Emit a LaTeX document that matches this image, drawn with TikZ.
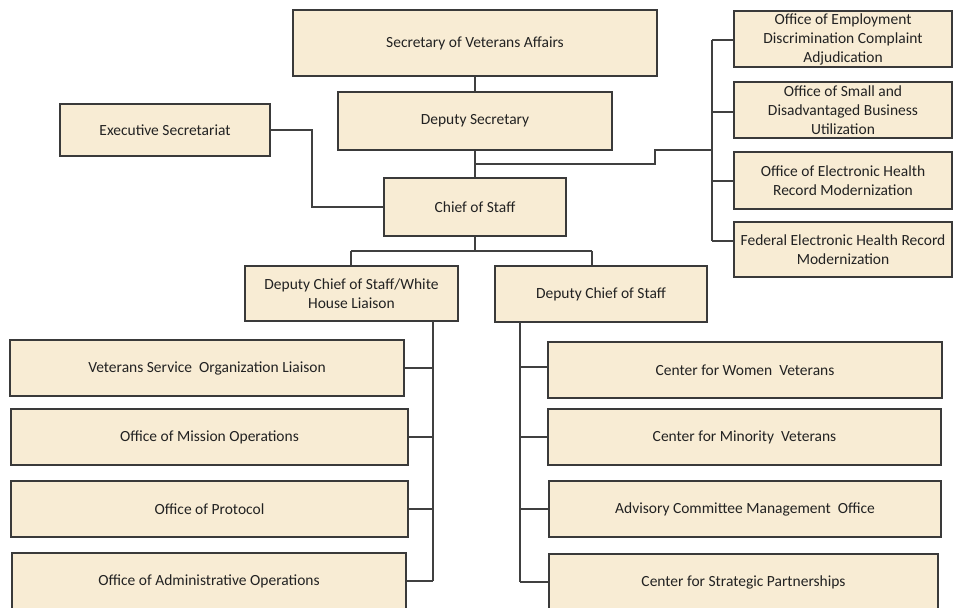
\documentclass[tikz,border=0pt]{standalone}
\usepackage{fontspec}
\setmainfont{Carlito}
\usetikzlibrary{calc}
\definecolor{boxfill}{HTML}{F8ECD4}
\definecolor{boxline}{HTML}{3A3A3A}
\definecolor{wire}{HTML}{404040}
\definecolor{txt}{HTML}{222222}
\tikzset{
  orgbox/.style={draw=boxline, line width=1.4pt, fill=boxfill, rectangle,
    inner sep=0pt, align=center, text=txt, font=\fontsize{15.5}{19}\selectfont},
  wireline/.style={draw=wire, line width=1.5pt}
}
\newcommand{\orgnode}[6]{%
  \node[orgbox, minimum width={#4-#2}, minimum height={#5-#3}]
    (#1) at ({(#2+#4)/2},{(#3+#5)/2}) {#6};}
\begin{document}
\begin{tikzpicture}[x=1pt,y=-1pt]
\clip (0,0) rectangle (954,608);
\fill[white] (0,0) rectangle (954,608);
% boxes
\orgnode{sec}{293}{10}{657}{76}{Secretary of Veterans Affairs}
\orgnode{dsec}{338}{92}{612}{150}{Deputy Secretary}
\orgnode{chief}{384}{178}{566}{236}{Chief of Staff}
\orgnode{exec}{60}{104}{270}{156}{Executive Secretariat}
\orgnode{ra}{734}{11}{952}{67}{Office of Employment\\Discrimination Complaint\\Adjudication}
\orgnode{rb}{734}{82}{952}{138}{Office of Small and\\Disadvantaged Business\\Utilization}
\orgnode{rc}{734}{152}{952}{209}{Office of Electronic Health\\Record Modernization}
\orgnode{rd}{734}{222}{952}{277}{Federal Electronic Health Record\\Modernization}
\orgnode{dcwh}{245}{266}{458}{321}{Deputy Chief of Staff/White\\House Liaison}
\orgnode{dcs}{495}{266}{707}{322}{Deputy Chief of Staff}
\orgnode{la}{10}{340}{404}{396}{Veterans Service\ \ Organization Liaison}
\orgnode{lb}{11}{409}{408}{465}{Office of Mission Operations}
\orgnode{lc}{11}{481}{408}{537}{Office of Protocol}
\orgnode{ld}{12}{553}{406}{610}{Office of Administrative Operations}
\orgnode{ca}{548}{342}{942}{398}{Center for Women\ \ Veterans}
\orgnode{cb}{548}{409}{941}{465}{Center for Minority\ \ Veterans}
\orgnode{cc}{549}{481}{941}{537}{Advisory Committee Management\ \ Office}
\orgnode{cd}{549}{554}{938}{610}{Center for Strategic Partnerships}
% free-end coordinates
\coordinate (jd) at (475,164);
\coordinate (jstep) at (655,164);
\coordinate (rbus) at (712,150);
\coordinate (rtop) at (712,40);
\coordinate (rbot) at (712,241);
\coordinate (ex) at (312,130);
\coordinate (cj) at (475,251);
\coordinate (hl) at (351,251);
\coordinate (hr) at (592,251);
\coordinate (lbus) at (433,321);
\coordinate (lbot) at (433,581);
\coordinate (cbus) at (520,322);
\coordinate (cbot) at (520,582);
% connectors
\draw[wireline] (sec.south) -- (dsec.north);
\draw[wireline] (dsec.south) -- (chief.north);
\draw[wireline] (jd) -- (jstep) -- (jstep |- rbus) -- (rbus);
\draw[wireline] (rtop) -- (rbot);
\draw[wireline] (rtop) -- (rtop -| ra.west);
\draw[wireline] (rtop |- 0,112) -- (rb.west |- 0,112);
\draw[wireline] (rtop |- 0,181) -- (rc.west |- 0,181);
\draw[wireline] (rbot) -- (rbot -| rd.west);
\draw[wireline] (exec.east) -- (ex) -- (ex |- chief.west) -- (chief.west);
\draw[wireline] (chief.south) -- (cj);
\draw[wireline] (hl) -- (hr);
\draw[wireline] (hl) -- (hl |- dcwh.north);
\draw[wireline] (hr) -- (hr |- dcs.north);
\draw[wireline] (lbus) -- (lbot);
\draw[wireline] (la.east) -- (lbus |- la.east);
\draw[wireline] (lb.east) -- (lbus |- lb.east);
\draw[wireline] (lc.east) -- (lbus |- lc.east);
\draw[wireline] (ld.east |- lbot) -- (lbot);
\draw[wireline] (cbus) -- (cbot);
\draw[wireline] (cbus |- 0,367) -- (ca.west |- 0,367);
\draw[wireline] (cbus |- cb.west) -- (cb.west);
\draw[wireline] (cbus |- cc.west) -- (cc.west);
\draw[wireline] (cbot) -- (cbot -| cd.west);
\end{tikzpicture}
\end{document}
